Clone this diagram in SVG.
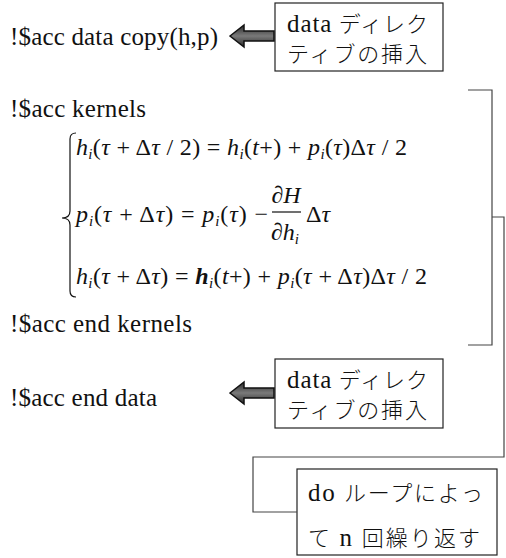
<svg xmlns="http://www.w3.org/2000/svg" width="506" height="558" viewBox="0 0 506 558">
  <defs>
    <linearGradient id="arrowFill" x1="0" y1="0" x2="0" y2="1">
      <stop offset="0" stop-color="#2a2a2a"/>
      <stop offset="0.5" stop-color="#7a7a7a"/>
      <stop offset="1" stop-color="#2a2a2a"/>
    </linearGradient>
    <!-- thick block arrow pointing left, tip at origin -->
    <path id="blockArrow" d="M0,0 L14,-11 L14,-5 L44,-5 L44,5 L14,5 L14,11 Z"/>
  </defs>
  <style>
    .code { font-family: "Liberation Serif", "Times New Roman", serif; font-size: 25px; fill: #111; }
    .note { font-family: "Liberation Serif", "Noto Sans CJK JP", serif; font-size: 22px; font-weight: 300; fill: #111; }
    .lat { font-size: 25px; font-weight: normal; }
    .m { font-family: "Liberation Serif", "Times New Roman", serif; font-size: 24px; fill: #111; }
    .it { font-style: italic; }
    .sub { font-style: italic; font-size: 15px; }
    .box { fill: #fff; stroke: #222; stroke-width: 1.2; }
    .arrow { fill: url(#arrowFill); stroke: #111; stroke-width: 1.5; stroke-linejoin: miter; }
    .wire { fill: none; stroke: #444; stroke-width: 1.2; }
    .brace { fill: none; stroke: #111; stroke-width: 1.2; }
  </style>

  <!-- code lines -->
  <g id="line-data-copy">
    <text class="code" x="10" y="45" textLength="208" lengthAdjust="spacing">!$acc data copy(h,p)</text>
  </g>
  <g id="line-kernels">
    <text class="code" x="10" y="117" textLength="136" lengthAdjust="spacing">!$acc kernels</text>
  </g>
  <g id="line-end-kernels">
    <text class="code" x="10" y="332" textLength="182" lengthAdjust="spacing">!$acc end kernels</text>
  </g>
  <g id="line-end-data">
    <text class="code" x="10" y="406" textLength="147" lengthAdjust="spacing">!$acc end data</text>
  </g>

  <!-- equations -->
  <g id="equations">
    <path class="brace" d="M76,133 Q70,133 70,139 L70,211 Q70,218 62,218 Q70,218 70,225 L70,291 Q70,297 76,297"/>
    <text class="m" x="76" y="155" textLength="331" lengthAdjust="spacing"><tspan class="it">h</tspan><tspan class="sub" dy="4">i</tspan><tspan dy="-4">(</tspan><tspan class="it">τ</tspan> + Δ<tspan class="it">τ</tspan> / 2) = <tspan class="it">h</tspan><tspan class="sub" dy="4">i</tspan><tspan dy="-4">(</tspan><tspan class="it">t</tspan>+) + <tspan class="it">p</tspan><tspan class="sub" dy="4">i</tspan><tspan dy="-4">(</tspan><tspan class="it">τ</tspan>)Δ<tspan class="it">τ</tspan> / 2</text>
    <text class="m" x="76" y="222" textLength="192" lengthAdjust="spacing"><tspan class="it">p</tspan><tspan class="sub" dy="4">i</tspan><tspan dy="-4">(</tspan><tspan class="it">τ</tspan> + Δ<tspan class="it">τ</tspan>) = <tspan class="it">p</tspan><tspan class="sub" dy="4">i</tspan><tspan dy="-4">(</tspan><tspan class="it">τ</tspan>) −</text>
    <text class="m" x="286" y="203" text-anchor="middle">∂<tspan class="it">H</tspan></text>
    <line x1="272" y1="212" x2="301" y2="212" stroke="#111" stroke-width="1.2"/>
    <text class="m" x="285" y="240" text-anchor="middle">∂<tspan class="it">h</tspan><tspan class="sub" dy="4">i</tspan></text>
    <text class="m" x="306" y="222">Δ<tspan class="it">τ</tspan></text>
    <text class="m" x="76" y="284" textLength="351" lengthAdjust="spacing"><tspan class="it">h</tspan><tspan class="sub" dy="4">i</tspan><tspan dy="-4">(</tspan><tspan class="it">τ</tspan> + Δ<tspan class="it">τ</tspan>) = <tspan class="it" font-weight="bold">h</tspan><tspan class="sub" dy="4">i</tspan><tspan dy="-4">(</tspan><tspan class="it">t</tspan>+) + <tspan class="it">p</tspan><tspan class="sub" dy="4">i</tspan><tspan dy="-4">(</tspan><tspan class="it">τ</tspan> + Δ<tspan class="it">τ</tspan>)Δ<tspan class="it">τ</tspan> / 2</text>
  </g>

  <!-- note boxes -->
  <g id="note-data-top">
    <rect class="box" x="275" y="3" width="168" height="68"/>
    <text class="note" x="287" y="32" textLength="141" lengthAdjust="spacing"><tspan class="lat">data</tspan> ディレク</text>
    <text class="note" x="287" y="62" textLength="140" lengthAdjust="spacing">ティブの挿入</text>
  </g>
  <g id="note-data-bottom">
    <rect class="box" x="275" y="359" width="168" height="69"/>
    <text class="note" x="287" y="388" textLength="141" lengthAdjust="spacing"><tspan class="lat">data</tspan> ディレク</text>
    <text class="note" x="287" y="418" textLength="140" lengthAdjust="spacing">ティブの挿入</text>
  </g>
  <g id="note-loop">
    <rect class="box" x="297" y="469" width="200" height="86"/>
    <text class="note" x="308" y="501" textLength="175" lengthAdjust="spacing"><tspan class="lat">do</tspan> ループによっ</text>
    <text class="note" x="308" y="546" textLength="172" lengthAdjust="spacing">て <tspan class="lat">n</tspan> 回繰り返す</text>
  </g>

  <!-- connectors -->
  <g id="connectors">
    <use href="#blockArrow" class="arrow" x="230" y="36"/>
    <use href="#blockArrow" class="arrow" x="230" y="393"/>
    <path class="wire" d="M468,90 L492,90 L492,345 L468,345"/>
    <path class="wire" d="M492,217 L504,217 L504,457 L253,457 L253,512 L297,512"/>
  </g>
</svg>
